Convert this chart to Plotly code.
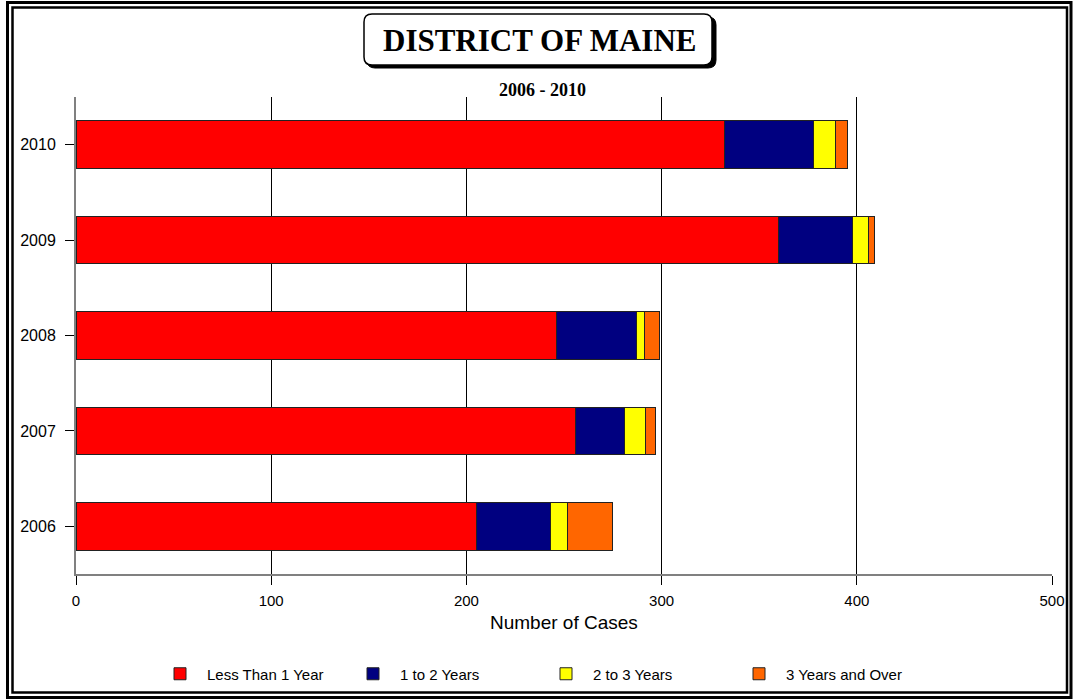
import plotly.graph_objects as go

# Caseload by time pending, District of Maine, 2006-2010
years = ["2006", "2007", "2008", "2009", "2010"]
less_than_1 = [205, 256, 246, 360, 332]
one_to_2 = [38, 25, 41, 38, 46]
two_to_3 = [9, 11, 4, 8, 11]
three_plus = [23, 5, 8, 3, 6]

series = [
    ("Less Than 1 Year", less_than_1, "#FF0000"),
    ("1 to 2 Years", one_to_2, "#000080"),
    ("2 to 3 Years", two_to_3, "#FFFF00"),
    ("3 Years and Over", three_plus, "#FF6600"),
]

W, H = 1073, 700
L, R, T, B = 76, 21, 97, 126
PW, PH = W - L - R, H - T - B


def px(x):
    return (x - L) / PW


def py(y):
    return (H - B - y) / PH


fig = go.Figure()
for name, vals, color in series:
    fig.add_trace(go.Bar(
        y=years, x=vals, name=name, orientation="h",
        marker=dict(color=color, line=dict(color="#222222", width=1)),
    ))

shapes = []

# double frame around the whole page
for x0, y0, x1, y1, w in [(7.5, 2.5, 1071, 697.5, 3), (12.5, 7.5, 1067, 692.5, 2.5)]:
    shapes.append(dict(type="rect", xref="paper", yref="paper",
                       x0=px(x0), x1=px(x1), y0=py(y0), y1=py(y1),
                       line=dict(color="black", width=w), fillcolor="rgba(0,0,0,0)",
                       layer="below"))


def rounded(x0, y0, x1, y1, r):
    return (f"M {px(x0 + r)},{py(y0)} L {px(x1 - r)},{py(y0)} "
            f"Q {px(x1)},{py(y0)} {px(x1)},{py(y0 + r)} "
            f"L {px(x1)},{py(y1 - r)} Q {px(x1)},{py(y1)} {px(x1 - r)},{py(y1)} "
            f"L {px(x0 + r)},{py(y1)} Q {px(x0)},{py(y1)} {px(x0)},{py(y1 - r)} "
            f"L {px(x0)},{py(y0 + r)} Q {px(x0)},{py(y0)} {px(x0 + r)},{py(y0)} Z")


# title box with drop shadow
shapes.append(dict(type="path", xref="paper", yref="paper",
                   path=rounded(367, 17, 716, 68, 8),
                   fillcolor="black", line=dict(color="black", width=1)))
shapes.append(dict(type="path", xref="paper", yref="paper",
                   path=rounded(364, 14, 712, 65, 8),
                   fillcolor="white", line=dict(color="black", width=1.5)))

annotations = [
    dict(text="<b>DISTRICT OF MAINE</b>", x=px(540), y=py(41), xref="paper", yref="paper",
         showarrow=False, xanchor="center", yanchor="middle",
         font=dict(family="Liberation Serif", size=31, color="black")),
    dict(text="<b>2006 - 2010</b>", x=px(542), y=py(90), xref="paper", yref="paper",
         showarrow=False, xanchor="center", yanchor="middle",
         font=dict(family="Liberation Serif", size=18, color="black")),
    dict(text="Number of Cases", x=px(564), y=py(622), xref="paper", yref="paper",
         showarrow=False, xanchor="center", yanchor="middle",
         font=dict(family="Liberation Sans", size=19, color="black")),
]

fig.update_layout(
    width=W, height=H,
    margin=dict(l=L, r=R, t=T, b=B, pad=0, autoexpand=False),
    paper_bgcolor="white", plot_bgcolor="white",
    barmode="stack", bargap=0.5,
    font=dict(family="Liberation Sans", size=15, color="black"),
    showlegend=True,
    legend=dict(orientation="h", x=px(153), y=py(674), xanchor="left", yanchor="middle",
                entrywidth=134, entrywidthmode="pixels", traceorder="normal",
                itemwidth=44,
                font=dict(family="Liberation Sans", size=15, color="black"),
                bgcolor="rgba(0,0,0,0)"),
    shapes=shapes,
    annotations=annotations,
    xaxis=dict(range=[0, 500], dtick=100, tick0=0, showgrid=True, gridcolor="black",
               gridwidth=1, zeroline=False, showline=True, linecolor="#808080", linewidth=2,
               ticks="outside", ticklen=9, tickcolor="black", tickwidth=1,
               ticklabelstandoff=3, automargin=False,
               tickfont=dict(family="Liberation Sans", size=15), fixedrange=True),
    yaxis=dict(type="category", categoryorder="array", categoryarray=years,
               range=[-0.5, 4.5], showgrid=False, zeroline=False, showline=True,
               linecolor="#808080", linewidth=2, ticks="outside", ticklen=9,
               tickcolor="black", tickwidth=1, ticklabelstandoff=6, automargin=False,
               tickfont=dict(family="Liberation Sans", size=16), fixedrange=True),
)

fig.write_html("out.html")
